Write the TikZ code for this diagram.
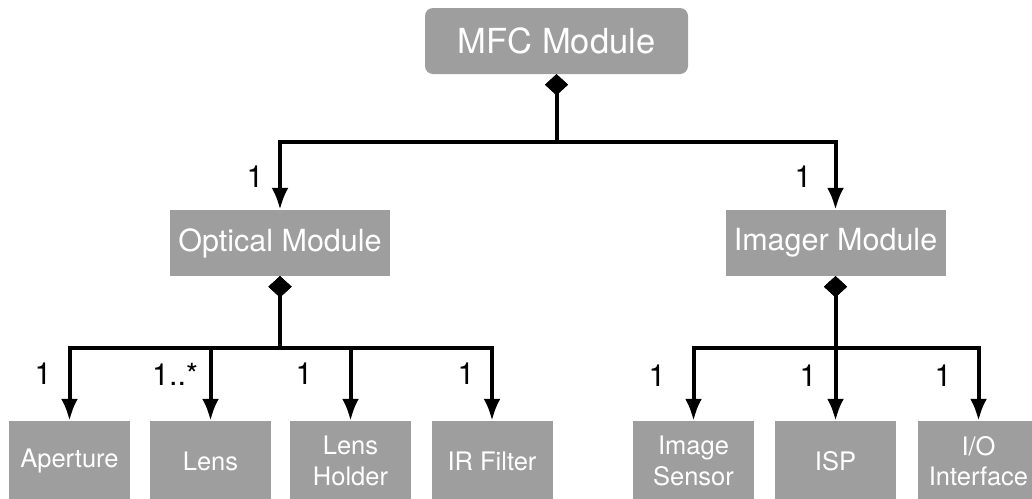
\documentclass[tikz,border=0pt]{standalone}
\usepackage{fontspec}
\setmainfont{TeX Gyre Heros}
\usetikzlibrary{arrows.meta}
\definecolor{boxgray}{RGB}{158,158,158}
\tikzset{
  box/.style={fill=boxgray, text=white, draw=none, inner sep=0pt, align=center},
  topbox/.style={box, minimum width=263pt, minimum height=66pt, rounded corners=8pt,
    font=\fontsize{34.5}{40}\selectfont},
  midbox/.style={box, minimum width=220pt, minimum height=66pt,
    font=\fontsize{30.5}{36}\selectfont},
  leafbox/.style={box, minimum width=121pt, minimum height=80pt,
    font=\fontsize{25.5}{30.5}\selectfont},
  mult/.style={font=\fontsize{30.5}{36}\selectfont, inner sep=0pt},
  comp/.style={line width=4pt,
    {Diamond[length=21pt,width=23pt]}-{Latex[length=22pt,width=17pt]}},
}
\begin{document}
\begin{tikzpicture}[x=1pt, y=-1pt]
  \useasboundingbox (0,0) rectangle (1032,498);
  \clip (0,0) rectangle (1032,498);

  % containers
  \node[topbox] (mfc) at (556.5,41) {MFC Module};
  \node[midbox] (opt) at (280,243) {Optical Module};
  \node[midbox] (img) at (835.5,243) {Imager Module};

  % optical parts
  \node[leafbox] (ape) at (69.5,461) {Aperture};
  \node[leafbox] (lens) at (210.5,461) {Lens};
  \node[leafbox] (hold) at (350.5,461) {Lens\\Holder};
  \node[leafbox] (irf) at (492,461) {IR Filter};

  % imager parts
  \node[leafbox] (sens) at (693.5,461) {Image\\Sensor};
  \node[leafbox] (isp) at (835.5,461) {ISP};
  \node[leafbox] (io) at (978.5,461) {I/O\\Interface};

  % bus levels
  \coordinate (busA) at (0,141.5);
  \coordinate (busB) at (0,347.5);

  % composition links
  \draw[comp] (mfc.south) -- (mfc.south |- busA) -| (opt.north);
  \draw[comp] (mfc.south) -- (mfc.south |- busA) -| (img.north);

  \draw[comp] (opt.south) -- (opt.south |- busB) -| (ape.north);
  \draw[comp] (opt.south) -- (opt.south |- busB) -| (lens.north);
  \draw[comp] (opt.south) -- (opt.south |- busB) -| (hold.north);
  \draw[comp] (opt.south) -- (opt.south |- busB) -| (irf.north);

  \draw[comp] (img.south) -- (img.south |- busB) -| (sens.north);
  \draw[comp] (img.south) -- (isp.north);
  \draw[comp] (img.south) -- (img.south |- busB) -| (io.north);

  % multiplicities
  \node[mult] (m1) at (255,177) {1};
  \node[mult] (m2) at (803,177) {1};
  \node[mult] (m3) at (43,374) {1};
  \node[mult] (m4) at (175,374) {1..*};
  \node[mult] (m5) at (304,374) {1};
  \node[mult] (m6) at (466,374) {1};
  \node[mult] (m7) at (657,376) {1};
  \node[mult] (m8) at (808,376) {1};
  \node[mult] (m9) at (943,376) {1};
\end{tikzpicture}
\end{document}
